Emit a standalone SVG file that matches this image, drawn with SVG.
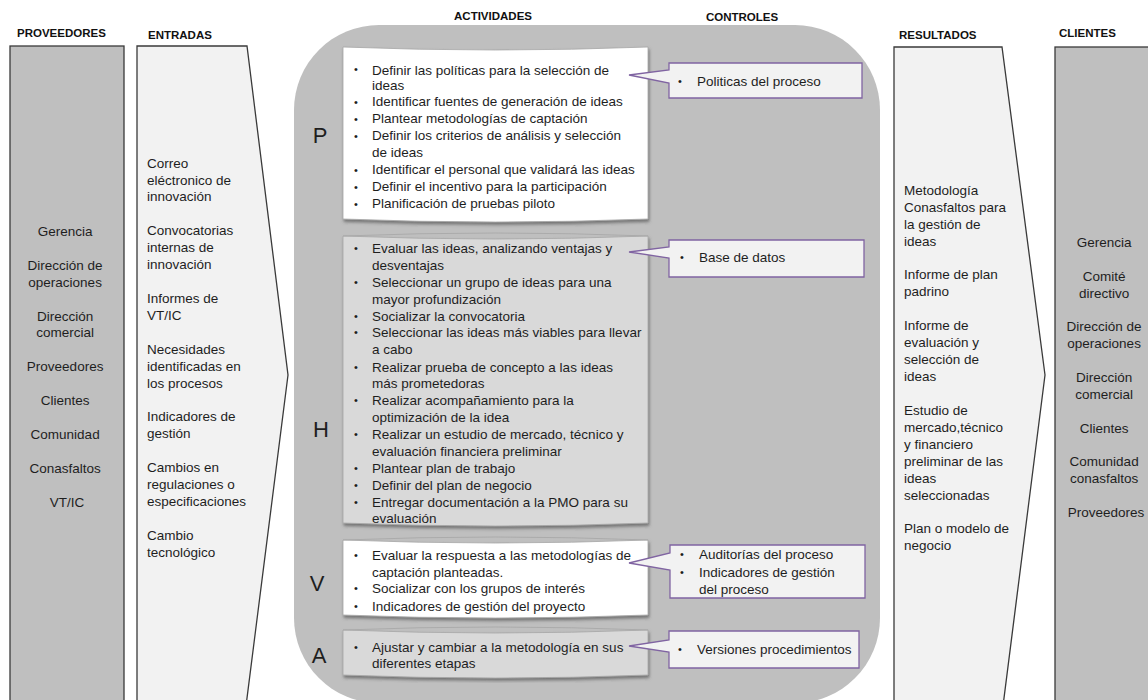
<svg xmlns="http://www.w3.org/2000/svg" width="1148" height="700" viewBox="0 0 1148 700">
<style>
text{font-family:"Liberation Sans",Arial,sans-serif;fill:#1e1e1e}
.h{font-size:11.5px;font-weight:bold;fill:#111}
.t{font-size:13.5px}
.b{font-size:11px}
.L{font-size:22px}
.side{stroke:#3a3a3a;stroke-width:1.3}
.card{stroke:#a6a6a6;stroke-width:0.8}
.call{fill:#f2f2f2;stroke:#8064a2;stroke-width:1.3}
.c{text-anchor:middle}
</style>
<defs>
<filter id="sh" x="-5%" y="-5%" width="110%" height="115%">
<feDropShadow dx="1" dy="2.5" stdDeviation="1.5" flood-color="#404040" flood-opacity="0.6"/>
</filter>
</defs>
<rect width="1148" height="700" fill="#ffffff"/>

<!-- headers -->
<text class="h" x="17" y="37">PROVEEDORES</text>
<text class="h" x="148" y="39">ENTRADAS</text>
<text class="h c" x="493" y="20">ACTIVIDADES</text>
<text class="h c" x="742" y="21">CONTROLES</text>
<text class="h" x="899" y="39">RESULTADOS</text>
<text class="h" x="1059" y="37">CLIENTES</text>

<g id="proveedores">
<rect class="side" x="10" y="46" width="114" height="660" fill="#bfbfbf"/>
<text class="t c">
<tspan x="67" y="236">Gerencia</tspan>
<tspan x="67" y="270">Dirección de</tspan>
<tspan x="67" y="287">operaciones</tspan>
<tspan x="67" y="321">Dirección</tspan>
<tspan x="67" y="337">comercial</tspan>
<tspan x="67" y="371">Proveedores</tspan>
<tspan x="67" y="405">Clientes</tspan>
<tspan x="67" y="439">Comunidad</tspan>
<tspan x="67" y="473">Conasfaltos</tspan>
<tspan x="67" y="507">VT/IC</tspan>
</text>
</g>

<g id="entradas">
<polygon class="side" points="137,46 247,46 288,375 246,706 137,706" fill="#f2f2f2"/>
<text class="t">
<tspan x="147" y="168">Correo</tspan>
<tspan x="147" y="185">eléctronico de</tspan>
<tspan x="147" y="201">innovación</tspan>
<tspan x="147" y="235">Convocatorias</tspan>
<tspan x="147" y="252">internas de</tspan>
<tspan x="147" y="269">innovación</tspan>
<tspan x="147" y="303">Informes de</tspan>
<tspan x="147" y="320">VT/IC</tspan>
<tspan x="147" y="354">Necesidades</tspan>
<tspan x="147" y="371">identificadas en</tspan>
<tspan x="147" y="388">los procesos</tspan>
<tspan x="147" y="421">Indicadores de</tspan>
<tspan x="147" y="438">gestión</tspan>
<tspan x="147" y="472">Cambios en</tspan>
<tspan x="147" y="489">regulaciones o</tspan>
<tspan x="147" y="506">especificaciones</tspan>
<tspan x="147" y="540">Cambio</tspan>
<tspan x="147" y="557">tecnológico</tspan>
</text>
</g>

<g id="actividades">
<rect x="294" y="25" width="586" height="678" rx="85" ry="85" fill="#bfbfbf"/>
</g>

<g id="fase-P">
<text class="L c" x="320" y="143">P</text>
<path class="card" filter="url(#sh)" d="M343,47 Q495,53 648,47 L648,219 Q495,225 343,219 Z" fill="#ffffff"/>
<text class="b"><tspan x="354" y="73">•</tspan><tspan x="354" y="106">•</tspan><tspan x="354" y="123">•</tspan><tspan x="354" y="140">•</tspan><tspan x="354" y="174">•</tspan><tspan x="354" y="191">•</tspan><tspan x="354" y="208">•</tspan></text>
<text class="t">
<tspan x="372" y="75">Definir las políticas para la selección de</tspan>
<tspan x="372" y="90">ideas</tspan>
<tspan x="372" y="106">Identificar fuentes de generación de ideas</tspan>
<tspan x="372" y="123">Plantear metodologías de captación</tspan>
<tspan x="372" y="140">Definir los criterios de análisis y selección</tspan>
<tspan x="372" y="157">de ideas</tspan>
<tspan x="372" y="174">Identificar el personal que validará las ideas</tspan>
<tspan x="372" y="191">Definir el incentivo para la participación</tspan>
<tspan x="372" y="208">Planificación de pruebas piloto</tspan>
</text>
</g>

<g id="fase-H">
<text class="L c" x="321" y="437">H</text>
<path class="card" filter="url(#sh)" d="M343,236 Q495,242 648,236 L648,523 Q495,529 343,523 Z" fill="#d9d9d9"/>
<path d="M343,236 Q495,230 648,236" fill="none" stroke="#a6a6a6" stroke-width="0.8"/>
<text class="b"><tspan x="354" y="252">•</tspan><tspan x="354" y="286">•</tspan><tspan x="354" y="320">•</tspan><tspan x="354" y="336">•</tspan><tspan x="354" y="371">•</tspan><tspan x="354" y="404">•</tspan><tspan x="354" y="438">•</tspan><tspan x="354" y="472">•</tspan><tspan x="354" y="489">•</tspan><tspan x="354" y="506">•</tspan></text>
<text class="t">
<tspan x="372" y="253">Evaluar las ideas, analizando ventajas y</tspan>
<tspan x="372" y="270">desventajas</tspan>
<tspan x="372" y="287">Seleccionar un grupo de ideas para una</tspan>
<tspan x="372" y="304">mayor profundización</tspan>
<tspan x="372" y="321">Socializar la convocatoria</tspan>
<tspan x="372" y="337">Seleccionar las ideas más viables para llevar</tspan>
<tspan x="372" y="354">a cabo</tspan>
<tspan x="372" y="372">Realizar prueba de concepto a las ideas</tspan>
<tspan x="372" y="388">más prometedoras</tspan>
<tspan x="372" y="405">Realizar acompañamiento para la</tspan>
<tspan x="372" y="422">optimización de la idea</tspan>
<tspan x="372" y="439">Realizar un estudio de mercado, técnico y</tspan>
<tspan x="372" y="456">evaluación financiera preliminar</tspan>
<tspan x="372" y="473">Plantear plan de trabajo</tspan>
<tspan x="372" y="490">Definir del plan de negocio</tspan>
<tspan x="372" y="507">Entregar documentación a la PMO para su</tspan>
<tspan x="372" y="523">evaluación</tspan>
</text>
</g>

<g id="fase-V">
<text class="L c" x="317" y="591">V</text>
<path class="card" filter="url(#sh)" d="M343,540 Q495,546 648,540 L648,615 Q495,621 343,615 Z" fill="#ffffff"/>
<path d="M343,540 Q495,534 648,540" fill="none" stroke="#a6a6a6" stroke-width="0.8"/>
<text class="b"><tspan x="354" y="559">•</tspan><tspan x="354" y="592">•</tspan><tspan x="354" y="610">•</tspan></text>
<text class="t">
<tspan x="372" y="560">Evaluar la respuesta a las metodologías de</tspan>
<tspan x="372" y="577">captación planteadas.</tspan>
<tspan x="372" y="593">Socializar con los grupos de interés</tspan>
<tspan x="372" y="611">Indicadores de gestión del proyecto</tspan>
</text>
</g>

<g id="fase-A">
<text class="L c" x="319" y="663">A</text>
<path class="card" filter="url(#sh)" d="M343,630 Q495,636 648,630 L648,675 Q495,681 343,675 Z" fill="#d9d9d9"/>
<path d="M343,630 Q495,624 648,630" fill="none" stroke="#a6a6a6" stroke-width="0.8"/>
<text class="b"><tspan x="354" y="651">•</tspan></text>
<text class="t">
<tspan x="372" y="652">Ajustar y cambiar a la metodología en sus</tspan>
<tspan x="372" y="668">diferentes etapas</tspan>
</text>
</g>

<g id="connectors">
<g id="control-P">
<path class="call" d="M669,63 H862 V98 H669 V83 L629,75 L669,70 Z"/>
<text class="b" x="678" y="85">•</text>
<text class="t" x="697" y="86">Politicas del proceso</text>
</g>
<g id="control-H">
<path class="call" d="M669,240 H864 V277 H669 V258 L629,252 L669,247 Z"/>
<text class="b" x="680" y="261">•</text>
<text class="t" x="699" y="262">Base de datos</text>
</g>
<g id="control-V">
<path class="call" d="M670,545 H865 V598 H670 V570 L629,563 L670,553 Z"/>
<text class="b"><tspan x="680" y="558">•</tspan><tspan x="680" y="576">•</tspan></text>
<text class="t">
<tspan x="699" y="559">Auditorías del proceso</tspan>
<tspan x="699" y="577">Indicadores de gestión</tspan>
<tspan x="699" y="594">del proceso</tspan>
</text>
</g>
<g id="control-A">
<path class="call" d="M669,631 H859 V668 H669 V652 L629,646 L669,640 Z"/>
<text class="b" x="678" y="653">•</text>
<text class="t" x="697" y="654">Versiones procedimientos</text>
</g>
</g>

<g id="resultados">
<polygon class="side" points="894,47 1002,47 1045,375 1003,706 894,706" fill="#f2f2f2"/>
<text class="t">
<tspan x="904" y="195">Metodología</tspan>
<tspan x="904" y="212">Conasfaltos para</tspan>
<tspan x="904" y="229">la gestión de</tspan>
<tspan x="904" y="246">ideas</tspan>
<tspan x="904" y="279">Informe de plan</tspan>
<tspan x="904" y="296">padrino</tspan>
<tspan x="904" y="330">Informe de</tspan>
<tspan x="904" y="347">evaluación y</tspan>
<tspan x="904" y="364">selección de</tspan>
<tspan x="904" y="381">ideas</tspan>
<tspan x="904" y="415">Estudio de</tspan>
<tspan x="904" y="432">mercado,técnico</tspan>
<tspan x="904" y="449">y financiero</tspan>
<tspan x="904" y="466">preliminar de las</tspan>
<tspan x="904" y="483">ideas</tspan>
<tspan x="904" y="500">seleccionadas</tspan>
<tspan x="904" y="533">Plan o modelo de</tspan>
<tspan x="904" y="550">negocio</tspan>
</text>
</g>

<g id="clientes">
<rect class="side" x="1055" y="47" width="100" height="660" fill="#bfbfbf"/>
<text class="t c">
<tspan x="1106" y="247">Gerencia</tspan>
<tspan x="1106" y="281">Comité</tspan>
<tspan x="1106" y="298">directivo</tspan>
<tspan x="1106" y="331">Dirección de</tspan>
<tspan x="1106" y="348">operaciones</tspan>
<tspan x="1106" y="382">Dirección</tspan>
<tspan x="1106" y="399">comercial</tspan>
<tspan x="1106" y="433">Clientes</tspan>
<tspan x="1106" y="466">Comunidad</tspan>
<tspan x="1106" y="483">conasfaltos</tspan>
<tspan x="1106" y="517">Proveedores</tspan>
</text>
</g>
</svg>
